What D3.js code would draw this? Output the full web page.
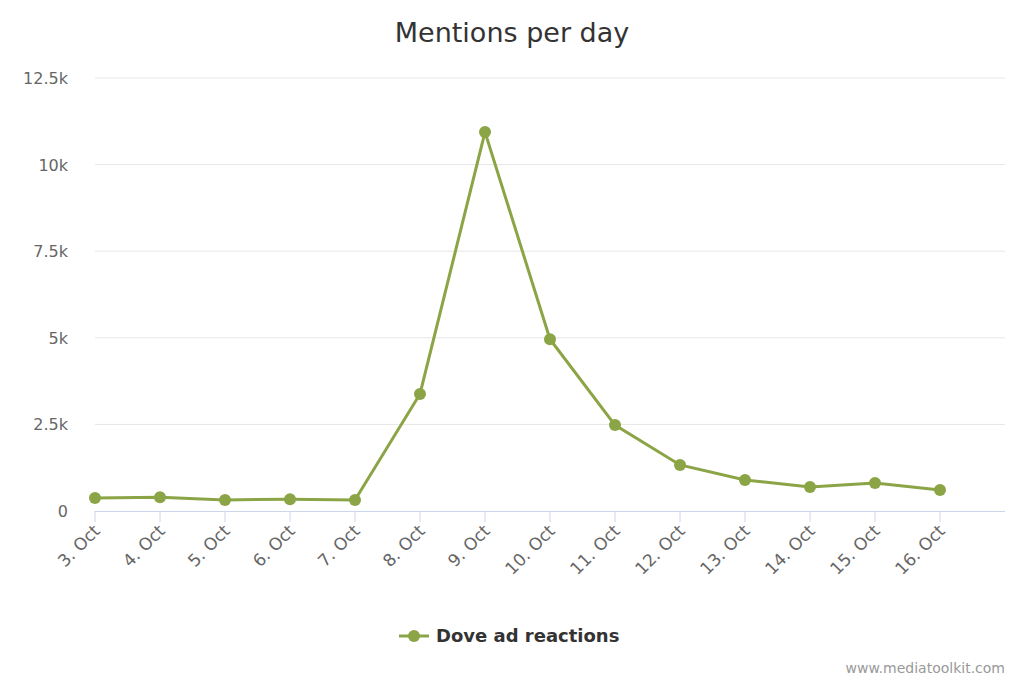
<!DOCTYPE html>
<html><head><meta charset="utf-8">
<script src="https://cdn.jsdelivr.net/npm/d3@7"></script>
<style>body{margin:0;background:#fff;font-family:"DejaVu Sans",sans-serif}</style>
</head><body>
<svg id="chart" width="1024" height="683"></svg>
<script>
const categories = ["3. Oct","4. Oct","5. Oct","6. Oct","7. Oct","8. Oct","9. Oct","10. Oct","11. Oct","12. Oct","13. Oct","14. Oct","15. Oct","16. Oct"];
const values = [375, 400, 320, 340, 320, 3380, 10940, 4960, 2480, 1330, 895, 690, 810, 605];
const yTicks = [0, 2500, 5000, 7500, 10000, 12500];
const yTickLabels = ["0", "2.5k", "5k", "7.5k", "10k", "12.5k"];
const color = "#8ba446";

const svg = d3.select("#chart");
const x = d3.scaleLinear().domain([0, categories.length]).range([95, 1005]);
const y = d3.scaleLinear().domain([0, 12500]).range([511, 78]);

// title
svg.append("text").attr("x", 512).attr("y", 42).attr("text-anchor", "middle")
  .style("font-size", "27px").style("fill", "#333").text("Mentions per day");

// grid + y labels
yTicks.forEach((t, i) => {
  if (t > 0) svg.append("line").attr("x1", 95).attr("x2", 1005).attr("y1", y(t)).attr("y2", y(t))
    .attr("stroke", "#e6e6e6");
  svg.append("text").attr("x", 68).attr("y", y(t) + 6).attr("text-anchor", "end")
    .style("font-size", "16px").style("fill", "#666").text(yTickLabels[i]);
});

// x axis
svg.append("line").attr("x1", 95).attr("x2", 1005).attr("y1", 511.5).attr("y2", 511.5).attr("stroke", "#ccd6eb");
categories.forEach((c, i) => {
  svg.append("line").attr("x1", x(i)).attr("x2", x(i)).attr("y1", 511).attr("y2", 522).attr("stroke", "#ccd6eb");
  svg.append("text").attr("text-anchor", "end")
    .attr("transform", `translate(${x(i) + 6},${532}) rotate(-45)`)
    .style("font-size", "17px").style("fill", "#666").text(c);
});

// line
const line = d3.line().x((d, i) => x(i)).y(d => y(d));
svg.append("path").datum(values).attr("d", line).attr("fill", "none")
  .attr("stroke", color).attr("stroke-width", 3);
svg.selectAll("circle.pt").data(values).join("circle").attr("class", "pt")
  .attr("cx", (d, i) => x(i)).attr("cy", d => y(d)).attr("r", 6).attr("fill", color);

// legend
svg.append("line").attr("x1", 399).attr("x2", 429).attr("y1", 636).attr("y2", 636).attr("stroke", color).attr("stroke-width", 3);
svg.append("circle").attr("cx", 414).attr("cy", 636).attr("r", 6).attr("fill", color);
svg.append("text").attr("x", 436).attr("y", 642).style("font-size", "18px").style("font-weight", "bold")
  .style("fill", "#333").text("Dove ad reactions");

// credit
svg.append("text").attr("x", 1005).attr("y", 673).attr("text-anchor", "end")
  .style("font-size", "14px").style("fill", "#999").text("www.mediatoolkit.com");
</script>
</body></html>
